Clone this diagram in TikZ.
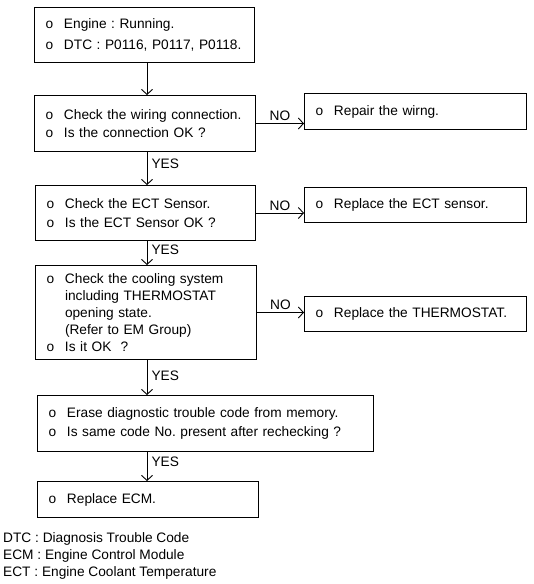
\documentclass[tikz,border=0pt]{standalone}
\usepackage{fontspec}
\setmainfont{Liberation Sans}
\usetikzlibrary{arrows.meta}
\frenchspacing
\newcommand{\bl}{\makebox[18.5pt][l]{o}}
\begin{document}
\begin{tikzpicture}[x=1pt,y=-1pt,
  box/.style={draw, line width=1pt, rectangle, anchor=north west, inner xsep=11pt, inner ysep=0pt,
    font=\fontsize{13.7}{18.5}\selectfont, align=left},
  arr/.style={line width=1pt, -{Straight Barb[length=5pt,width=11pt,line width=0.9pt]}},
  lab/.style={font=\fontsize{13.7}{15}\selectfont, inner sep=2pt},
  legend/.style={font=\fontsize{13.7}{15}\selectfont, anchor=west, inner sep=0pt}]
\useasboundingbox (0,0) rectangle (534,584);
\fill[white] (0,0) rectangle (534,584);

\node[box, minimum width=220pt, minimum height=55pt, text width=198pt] (b1) at (34,7)
  {\bl Engine : Running.\\[2pt] \bl DTC : P0116, P0117, P0118.};
\node[box, minimum width=221pt, minimum height=56pt, text width=199pt] (b2) at (34,95)
  {\bl Check the wiring connection.\\ \bl Is the connection OK ?};
\node[box, minimum width=222pt, minimum height=36pt, text width=200pt] (r1) at (304,93)
  {\bl Repair the wirng.};
\node[box, minimum width=220pt, minimum height=55pt, text width=198pt] (b3) at (35,185)
  {\bl Check the ECT Sensor.\\ \bl Is the ECT Sensor OK ?};
\node[box, minimum width=222pt, minimum height=35pt, text width=200pt] (r2) at (304,187)
  {\bl Replace the ECT sensor.};
\node[box, minimum width=221pt, minimum height=94pt, text width=199pt, font=\fontsize{13.7}{17.2}\selectfont] (b4) at (35,265)
  {\bl Check the cooling system\\ \hspace*{18.5pt}including THERMOSTAT\\ \hspace*{18.5pt}opening state.\\ \hspace*{18.5pt}(Refer to EM Group)\\ \bl Is it OK\ \ ?};
\node[box, minimum width=222pt, minimum height=35pt, text width=200pt] (r3) at (304,296)
  {\bl Replace the THERMOSTAT.};
\node[box, minimum width=336pt, minimum height=56pt, text width=314pt] (b5) at (37,395)
  {\bl Erase diagnostic trouble code from memory.\\ \bl Is same code No. present after rechecking ?};
\node[box, minimum width=221pt, minimum height=36pt, text width=199pt] (b6) at (37,481)
  {\bl Replace ECM.};

\node[legend] (l1) at (3,539) {DTC : Diagnosis Trouble Code};
\node[legend] (l2) at (3,556) {ECM : Engine Control Module};
\node[legend] (l3) at (3,573) {ECT : Engine Coolant Temperature};

\coordinate (ax) at (147,0);
\draw[arr] (b1.south -| ax) -- (b2.north -| ax);
\draw[arr] (b2.south -| ax) -- node[lab, pos=0.35, anchor=west, xshift=2pt] {YES} (b3.north -| ax);
\draw[arr] (b3.south -| ax) -- node[lab, pos=0.35, anchor=west, xshift=2pt] {YES} (b4.north -| ax);
\draw[arr] (b4.south -| ax) -- node[lab, pos=0.45, anchor=west, xshift=2pt] {YES} (b5.north -| ax);
\draw[arr] (b5.south -| ax) -- node[lab, pos=0.35, anchor=west, xshift=2pt] {YES} (b6.north -| ax);

\draw[arr] (b2.east) -- node[lab, above, pos=0.5] {NO} (b2.east -| r1.west);
\draw[arr] (b3.east) -- node[lab, above, pos=0.5] {NO} (b3.east -| r2.west);
\draw[arr] (b4.east) -- node[lab, above, pos=0.5] {NO} (b4.east -| r3.west);
\end{tikzpicture}
\end{document}
